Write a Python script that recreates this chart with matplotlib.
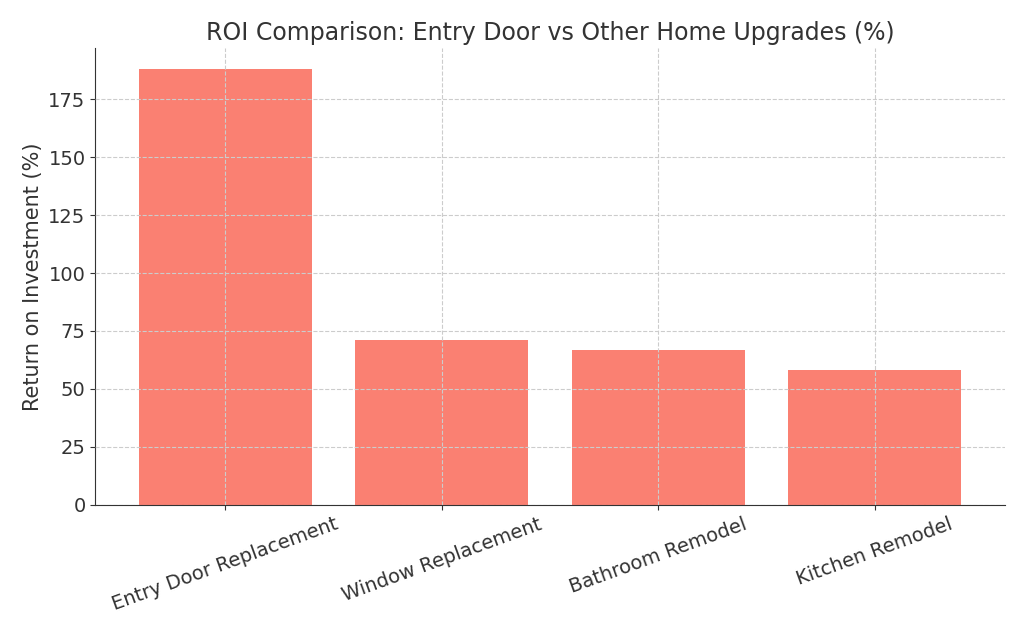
import matplotlib
matplotlib.use("Agg")
import matplotlib.pyplot as plt

categories = ["Entry Door Replacement", "Window Replacement", "Bathroom Remodel", "Kitchen Remodel"]
roi_values = [188, 71, 67, 58]

fig = plt.figure(figsize=(10.24, 6.4), dpi=100)
ax = fig.add_axes([0.093, 0.211, 0.888, 0.714])
ax.bar(categories, roi_values, color="salmon", width=0.8, zorder=1)
ax.grid(True, linestyle="--", color="#cccccc", linewidth=0.8, zorder=2)
ax.set_axisbelow(False)
for s in ["top", "right"]:
    ax.spines[s].set_visible(False)
ax.spines["left"].set_color("#333333")
ax.spines["bottom"].set_color("#333333")
ax.set_ylim(0, 197)
ax.set_xlim(-0.6, 3.6)
ax.set_ylabel("Return on Investment (%)", fontsize=15, color="#333333")
ax.set_title("ROI Comparison: Entry Door vs Other Home Upgrades (%)", fontsize=17, color="#333333")
ax.tick_params(axis="both", labelsize=14, colors="#333333")
plt.setp(ax.get_xticklabels(), rotation=20, ha="right", rotation_mode="anchor")
for lbl in ax.get_xticklabels():
    lbl.set_ha("center")
    lbl.set_rotation_mode("default")
fig.savefig("out.png")
